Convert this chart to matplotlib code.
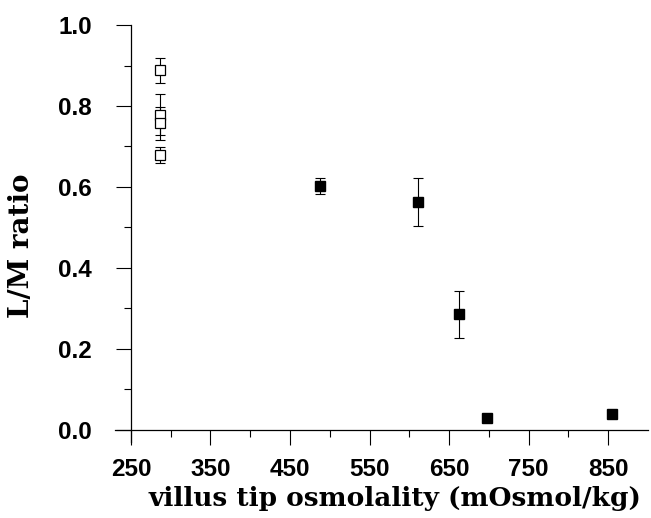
import numpy as np
import matplotlib
matplotlib.use("Agg")
import matplotlib.pyplot as plt
from matplotlib.ticker import FixedLocator

# open squares (control group)
open_x = [287, 287, 287, 287]
open_y = [0.889, 0.778, 0.758, 0.680]
open_err_lo = [0.031, 0.050, 0.042, 0.020]
open_err_hi = [0.029, 0.052, 0.040, 0.019]

# filled squares
fill_x = [488, 611, 662, 697, 855]
fill_y = [0.603, 0.563, 0.286, 0.030, 0.040]
fill_err_lo = [0.020, 0.060, 0.058, 0.0, 0.0]
fill_err_hi = [0.018, 0.060, 0.058, 0.0, 0.0]

x_major = [250, 350, 450, 550, 650, 750, 850]
x_minor = [300, 400, 500, 600, 700, 800]
y_major = [0.0, 0.2, 0.4, 0.6, 0.8, 1.0]
y_minor = [0.1, 0.3, 0.5, 0.7, 0.9]

fig = plt.figure(figsize=(6.51, 5.18), dpi=100)
ax = fig.add_axes([0.1767, 0.1467, 0.8187, 0.805])

# error bars
ax.errorbar(open_x, open_y, yerr=[open_err_lo, open_err_hi], fmt='none',
            ecolor='black', elinewidth=0.8, capsize=3.8, capthick=0.8)
ax.errorbar(fill_x, fill_y, yerr=[fill_err_lo, fill_err_hi], fmt='none',
            ecolor='black', elinewidth=0.8, capsize=3.8, capthick=0.8)

ax.plot(open_x, open_y, 's', ms=7, mfc='white', mec='black', mew=0.9, zorder=3)
ax.plot(fill_x, fill_y, 's', ms=7.3, mfc='black', mec='black', zorder=3)

ax.set_xlim(230, 900)
ax.set_ylim(-0.03, 1.0)

ax.spines['top'].set_visible(False)
ax.spines['right'].set_visible(False)
ax.spines['left'].set_position(('data', 250))
ax.spines['bottom'].set_position(('data', 0))
ax.spines['left'].set_linewidth(0.9)
ax.spines['bottom'].set_linewidth(0.9)

ax.xaxis.set_major_locator(FixedLocator(x_major))
ax.xaxis.set_minor_locator(FixedLocator(x_minor))
ax.yaxis.set_major_locator(FixedLocator(y_major))
ax.yaxis.set_minor_locator(FixedLocator(y_minor))
ax.set_xticklabels([str(v) for v in x_major])
ax.set_yticklabels(["%.1f" % v for v in y_major])

ax.tick_params(axis='both', which='major', direction='out', length=11, width=0.8)
ax.tick_params(axis='both', which='minor', direction='out', length=5, width=0.8)
ax.tick_params(axis='y', which='major', pad=17)
ax.tick_params(axis='x', which='major', pad=9)

for lab in ax.get_xticklabels() + ax.get_yticklabels():
    lab.set_fontfamily('Liberation Sans')
    lab.set_fontweight('bold')
    lab.set_fontsize(17.5)

ax.set_xlabel("villus tip osmolality (mOsmol/kg)", family='DejaVu Serif',
              fontsize=19, fontweight='bold')
ax.xaxis.set_label_coords(0.525, -0.1055)
ax.set_ylabel("L/M ratio", family='DejaVu Serif', fontsize=20,
              fontweight='bold')
ax.yaxis.set_label_coords(-0.15, 0.47)

fig.savefig("out.png", dpi=100)
